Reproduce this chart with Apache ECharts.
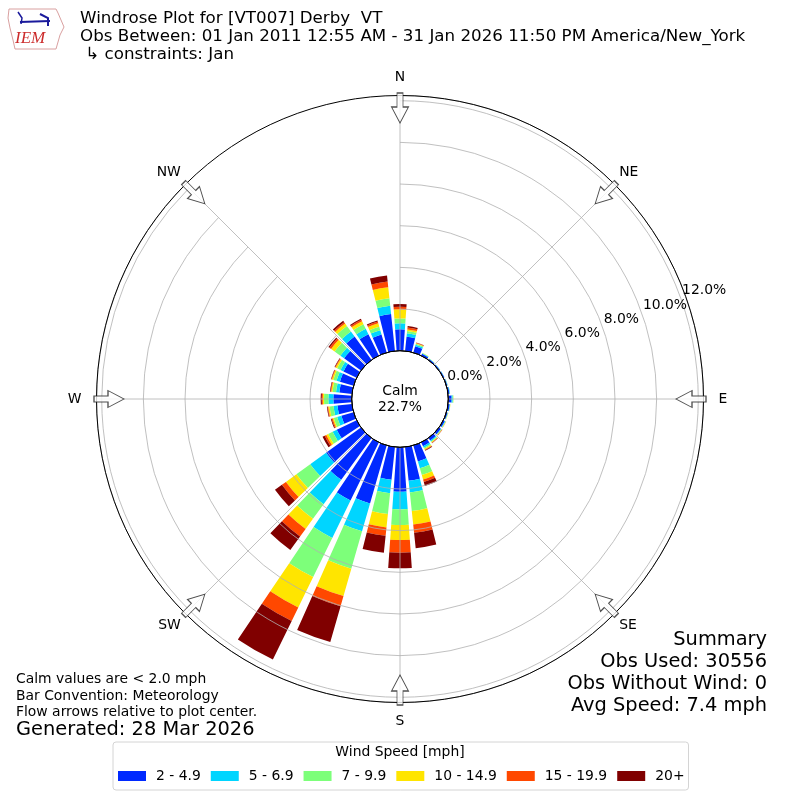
<!DOCTYPE html>
<html><head><meta charset="utf-8">
<script src="https://cdn.jsdelivr.net/npm/echarts@6/dist/echarts.min.js"></script>
<style>html,body{margin:0;padding:0;background:#fff}#c{width:800px;height:800px}</style>
</head><body><div id="c"></div>
<script>
// ---- data (percent of observations, direction bins 0..350 deg, 10 deg step) ----
const directions = ['0','10','20','30','40','50','60','70','80','90','100','110','120','130','140','150','160','170',
  '180','190','200','210','220','230','240','250','260','270','280','290','300','310','320','330','340','350'];
const speedBins = ['2 - 4.9','5 - 6.9','7 - 9.9','10 - 14.9','15 - 19.9','20+'];
const bin2to5   = [1.03,0.69,0.32,0.10,0.06,0.05,0.05,0.05,0.07,0.16,0.08,0.06,0.08,0.11,0.15,0.20,0.80,1.63,2.13,1.58,2.90,3.10,2.48,2.07,1.06,0.61,0.70,0.88,0.61,0.68,0.70,1.00,1.39,1.14,0.90,1.78];
const bin5to7   = [0.29,0.16,0.07,0.03,0.01,0.01,0.01,0.01,0.02,0.05,0.02,0.02,0.03,0.03,0.05,0.08,0.34,0.57,0.85,0.65,1.39,2.00,1.44,0.94,0.22,0.21,0.19,0.24,0.16,0.17,0.16,0.22,0.30,0.29,0.22,0.40];
const bin7to10  = [0.23,0.11,0.05,0.01,0.01,0.01,0.00,0.01,0.01,0.03,0.01,0.01,0.02,0.02,0.04,0.06,0.34,0.89,0.75,1.00,1.87,2.09,0.87,0.82,0.24,0.17,0.19,0.21,0.17,0.16,0.18,0.34,0.33,0.25,0.17,0.36];
const bin10to15 = [0.44,0.08,0.03,0.01,0.00,0.00,0.00,0.00,0.00,0.01,0.01,0.01,0.01,0.02,0.03,0.05,0.22,0.65,0.72,0.65,1.36,1.63,0.60,0.62,0.10,0.06,0.07,0.06,0.06,0.07,0.08,0.21,0.14,0.15,0.17,0.54];
const bin15to20 = [0.12,0.09,0.02,0.00,0.00,0.00,0.00,0.00,0.00,0.00,0.00,0.00,0.01,0.01,0.02,0.03,0.12,0.40,0.61,0.40,0.51,0.72,0.45,0.24,0.09,0.05,0.03,0.05,0.03,0.03,0.03,0.10,0.08,0.08,0.09,0.27];
const bin20plus = [0.13,0.07,0.01,0.00,0.00,0.00,0.00,0.00,0.00,0.00,0.00,0.00,0.00,0.01,0.01,0.03,0.20,0.74,0.75,0.82,1.79,2.06,0.80,0.41,0.11,0.04,0.03,0.05,0.03,0.02,0.03,0.06,0.08,0.06,0.05,0.29];
const compassLabels = ['N','NE','E','SE','S','SW','W','NW'];
const radialTicks = [0,2,4,6,8,10,12];
const calmPercent = 22.7;
const binColors = ['#0029ff','#00d5ff','#7dff7a','#ffe500','#ff4800','#800000'];

const binData = [bin2to5, bin5to7, bin7to10, bin10to15, bin15to20, bin20plus];
const FONT = '"DejaVu Sans", Verdana, sans-serif';
const CENTER = [400, 399];
const R_IN = 48.3, R_OUT = 303.5, R_MAX = 12.25;

const chart = echarts.init(document.getElementById('c'), null, {renderer: 'canvas'});

const hiddenAngle = (i, extra) => Object.assign({
  polarIndex: i, axisLine: {show: false}, axisTick: {show: false},
  axisLabel: {show: false}, splitLine: {show: false}
}, extra || {});
const hiddenRadius = (i, extra) => Object.assign({
  polarIndex: i, type: 'value', min: 0, max: R_MAX,
  axisLine: {show: false}, axisTick: {show: false},
  axisLabel: {show: false}, splitLine: {show: false}
}, extra || {});

const barSeries = speedBins.map((name, k) => ({
  name: name, type: 'bar', coordinateSystem: 'polar', polarIndex: 0,
  stack: 'wind', barCategoryGap: '20%', data: binData[k],
  itemStyle: {color: binColors[k]}, emphasis: {disabled: true}, z: 2
}));

const arrowPath = 'path://M8.5,0 L17,16 L11.5,16 L11.5,30 L5.5,30 L5.5,16 L0,16 Z';
const arrowSeries = {
  type: 'scatter', coordinateSystem: 'polar', polarIndex: 1, silent: true, z: 8,
  symbol: arrowPath, symbolSize: [17, 30],
  itemStyle: {color: '#ffffff', borderColor: '#222', borderWidth: 1},
  data: compassLabels.map((c, i) => ({value: [11.65, i], symbolRotate: 180 - i * 45}))
};

// per-label padding so that every compass label sits at the same distance from the rim
const compassPad = {N: [0,0,5,0], S: [5,0,0,0], E: [0,0,0,8.5], W: [0,8.5,0,0]};
const compassData = compassLabels.map(c => compassPad[c] ? {value: c, textStyle: {padding: compassPad[c]}} : c);

const txt = (text, x, y, size, align, extra) => Object.assign({
  type: 'text', z: 20, silent: true,
  style: {text: text, x: x, y: y, fill: '#000', font: size + 'px ' + FONT,
          textAlign: align || 'left', textVerticalAlign: 'middle'}
}, extra || {});

chart.setOption({
  animation: false,
  backgroundColor: '#fff',
  polar: [
    {center: CENTER, radius: [R_IN, R_OUT]},
    {center: CENTER, radius: [R_IN, R_OUT]},
    {center: CENTER, radius: [R_IN, R_OUT]},
    {center: CENTER, radius: [0, R_IN]}
  ],
  angleAxis: [
    hiddenAngle(0, {type: 'category', data: directions, startAngle: 95, clockwise: true}),
    {polarIndex: 1, type: 'category', data: compassData, boundaryGap: false, startAngle: 90, clockwise: true, z: 5,
     axisLine: {show: true, lineStyle: {color: '#000', width: 1}},
     axisTick: {show: false},
     splitLine: {show: true, lineStyle: {color: '#b0b0b0', width: 0.8}},
     axisLabel: {show: true, margin: 6.5, color: '#000', fontSize: 13.9, fontFamily: FONT}},
    hiddenAngle(2, {type: 'value', min: 0, max: 360, startAngle: 20}),
    hiddenAngle(3, {type: 'value', min: 0, max: 360, z: 6,
      axisLine: {show: true, lineStyle: {color: '#000', width: 1}}})
  ],
  radiusAxis: [
    hiddenRadius(0),
    hiddenRadius(1, {interval: 2, z: 5,
      splitLine: {show: true, lineStyle: {color: '#b0b0b0', width: 0.8}}}),
    hiddenRadius(2, {interval: 2, z: 5,
      axisLabel: {show: true, margin: 6.5, align: 'left', verticalAlign: 'middle', padding: [0, 0, 0, 4],
        color: '#000', fontSize: 13.9, fontFamily: FONT,
        formatter: v => radialTicks.indexOf(v) >= 0 ? v.toFixed(1) + '%' : ''}}),
    {polarIndex: 3, type: 'value', min: 0, max: 1, axisLine: {show: false}, axisTick: {show: false},
     axisLabel: {show: false}, splitLine: {show: false}}
  ],
  legend: {
    data: speedBins, left: 113, top: 742, orient: 'horizontal',
    icon: 'rect', itemWidth: 28, itemHeight: 10, itemGap: 10,
    padding: [27, 4, 7, 5], borderColor: '#d4d4d4', borderWidth: 1, borderRadius: 3,
    selectedMode: false,
    textStyle: {fontFamily: FONT, fontSize: 13.9, color: '#000', padding: [0, 0, 0, 5]}
  },
  series: barSeries.concat([arrowSeries]),
  graphic: [
    // IEM logo (simplified)
    {type: 'polygon', z: 20, silent: true,
     shape: {points: [[9,9],[56,9],[58,13],[61,20],[64,27],[60,35],[58,42],[56,49],[15,49],[13,40],[10,28],[8,18]]},
     style: {fill: 'none', stroke: '#d9a0a0', lineWidth: 1}},
    {type: 'polyline', z: 20, silent: true, shape: {points: [[20,22],[50,21]]}, style: {stroke: '#1a1a9c', lineWidth: 2}},
    {type: 'polyline', z: 20, silent: true, shape: {points: [[18,12],[22,18],[21,24]]}, style: {stroke: '#1a1a9c', lineWidth: 1.5}},
    {type: 'polyline', z: 20, silent: true, shape: {points: [[40,14],[48,18],[48,26]]}, style: {stroke: '#1a1a9c', lineWidth: 2}},
    txt('IEM', 15, 39, 17, 'left', {style: {text: 'IEM', x: 15, y: 39, fill: '#cc2b2b',
        font: 'italic 17px "Liberation Serif", serif', textAlign: 'left', textVerticalAlign: 'middle'}}),
    // titles
    txt('Windrose Plot for [VT007] Derby  VT', 80, 19, 16.7),
    txt('Obs Between: 01 Jan 2011 12:55 AM - 31 Jan 2026 11:50 PM America/New_York', 80, 37, 16.7),
    txt(' \u21b3 constraints: Jan', 80, 55, 16.7),
    // calm
    txt('Calm', 400, 391, 13.9, 'center'),
    txt(calmPercent.toFixed(1) + '%', 400, 407, 13.9, 'center'),
    // bottom left notes
    txt('Calm values are < 2.0 mph', 16, 679, 13.9),
    txt('Bar Convention: Meteorology', 16, 696, 13.9),
    txt('Flow arrows relative to plot center.', 16, 712, 13.9),
    txt('Generated: 28 Mar 2026', 16, 730, 19.4),
    // summary
    txt('Summary', 767, 640, 19.4, 'right'),
    txt('Obs Used: 30556', 767, 662, 19.4, 'right'),
    txt('Obs Without Wind: 0', 767, 684, 19.4, 'right'),
    txt('Avg Speed: 7.4 mph', 767, 706, 19.4, 'right'),
    // legend title
    txt('Wind Speed [mph]', 400, 752, 13.9, 'center')
  ]
});
</script></body></html>
